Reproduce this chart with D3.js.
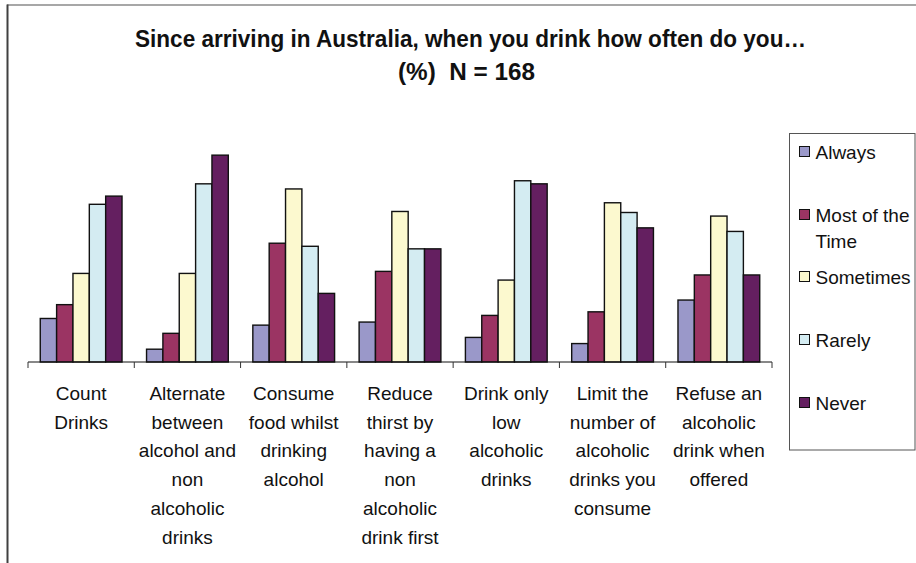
<!DOCTYPE html>
<html>
<head>
<meta charset="utf-8">
<script src="https://cdn.jsdelivr.net/npm/d3@7"></script>
<style>
  html, body { margin: 0; padding: 0; background: #fff; }
  svg { display: block; }
  text { font-family: "Liberation Sans", Arial, sans-serif; fill: #111; }
</style>
</head>
<body>
<svg id="chart" width="916" height="563"></svg>
<script>
// Behaviours asked about, one group of bars each
const categories = [
  ["Count", "Drinks"],
  ["Alternate", "between", "alcohol and", "non", "alcoholic", "drinks"],
  ["Consume", "food whilst", "drinking", "alcohol"],
  ["Reduce", "thirst by", "having a", "non", "alcoholic", "drink first"],
  ["Drink only", "low", "alcoholic", "drinks"],
  ["Limit the", "number of", "alcoholic", "drinks you", "consume"],
  ["Refuse an", "alcoholic", "drink when", "offered"]
];

// Response frequencies (legend order)
const seriesNames = ["Always", "Most of the Time", "Sometimes", "Rarely", "Never"];
const seriesColors = ["#9a98c9", "#9b3463", "#fcf9cf", "#d4ecf2", "#641f60"];

// Percent of respondents for each behaviour, one array per response
const always    = [8.5, 2.5, 7.2, 7.8, 4.8, 3.6, 12.1];
const mostTime  = [11.2, 5.6, 23.2, 17.7, 9.1, 9.8, 17.0];
const sometimes = [17.3, 17.3, 33.8, 29.4, 16.0, 31.1, 28.5];
const rarely    = [30.8, 34.8, 22.6, 22.1, 35.4, 29.2, 25.5];
const never     = [32.4, 40.4, 13.4, 22.1, 34.8, 26.2, 17.0];
const seriesValues = [always, mostTime, sometimes, rarely, never];

const titleLines = ["Since arriving in Australia, when you drink how often do you\u2026", "(%)  N = 168"];

const svg = d3.select("#chart");

// Outer frame (top and left edges)
svg.append("line").attr("x1", 7).attr("x2", 916).attr("y1", 5).attr("y2", 5)
  .attr("stroke", "#8a8a8a").attr("stroke-width", 1.5);
svg.append("line").attr("x1", 7.5).attr("x2", 7.5).attr("y1", 4.5).attr("y2", 563)
  .attr("stroke", "#404040").attr("stroke-width", 2);

// Title
svg.append("text").attr("x", 470.5).attr("y", 47).attr("text-anchor", "middle")
  .attr("font-size", 23).attr("font-weight", "bold")
  .attr("textLength", 671).attr("lengthAdjust", "spacingAndGlyphs")
  .text(titleLines[0]);
svg.append("text").attr("x", 466.5).attr("y", 80).attr("text-anchor", "middle")
  .attr("font-size", 23).attr("font-weight", "bold")
  .attr("textLength", 137).attr("lengthAdjust", "spacingAndGlyphs")
  .style("white-space", "pre")
  .text(titleLines[1]);

// Scales
const x0 = d3.scaleBand().domain(d3.range(categories.length)).range([28, 772]).padding(0);
const x1 = d3.scaleBand().domain(d3.range(seriesNames.length))
  .range([0, x0.bandwidth()]).paddingInner(0).paddingOuter(0.75);
const y = d3.scaleLinear().domain([0, 45]).range([362, 131.6]);

// Bars
const groups = svg.append("g").selectAll("g")
  .data(categories.map((c, i) => i))
  .join("g")
  .attr("transform", i => `translate(${x0(i)},0)`);

groups.selectAll("rect")
  .data(i => seriesValues.map((vals, s) => ({ s, v: vals[i] })))
  .join("rect")
  .attr("x", d => x1(d.s))
  .attr("y", d => y(d.v))
  .attr("width", x1.bandwidth())
  .attr("height", d => y(0) - y(d.v))
  .attr("fill", d => seriesColors[d.s])
  .attr("stroke", "#111")
  .attr("stroke-width", 1.4);

// Category axis: baseline and boundary ticks
svg.append("line").attr("x1", 28).attr("x2", 772).attr("y1", 362).attr("y2", 362)
  .attr("stroke", "#111").attr("stroke-width", 1);
const tickPos = d3.range(categories.length + 1).map(i => i < categories.length ? x0(i) : x0.range()[1]);
svg.append("g").selectAll("line").data(tickPos).join("line")
  .attr("x1", d => d).attr("x2", d => d).attr("y1", 362).attr("y2", 368)
  .attr("stroke", "#333").attr("stroke-width", 1);

// Category labels (wrapped lines)
const labels = svg.append("g").selectAll("text")
  .data(categories.map((lines, i) => ({ lines, i })))
  .join("text")
  .attr("text-anchor", "middle")
  .attr("font-size", 19)
  .attr("y", 400);
labels.selectAll("tspan")
  .data(d => d.lines.map((t, k) => ({ t, k, i: d.i })))
  .join("tspan")
  .attr("x", d => x0(d.i) + x0.bandwidth() / 2)
  .attr("dy", d => d.k === 0 ? 0 : 28.7)
  .text(d => d.t);

// Legend
const legend = svg.append("g");
legend.append("rect").attr("x", 789.5).attr("y", 133.5).attr("width", 125.5).attr("height", 316.5)
  .attr("fill", "#fff").attr("stroke", "#555").attr("stroke-width", 1);

const legendItems = [
  { lines: ["Always"], cy: 152 },
  { lines: ["Most of the", "Time"], cy: 215 },
  { lines: ["Sometimes"], cy: 277 },
  { lines: ["Rarely"], cy: 340 },
  { lines: ["Never"], cy: 403 }
];
legendItems.forEach((item, s) => {
  legend.append("rect")
    .attr("x", 799.5).attr("y", item.cy - 5.5).attr("width", 10).attr("height", 10)
    .attr("fill", seriesColors[s]).attr("stroke", "#111").attr("stroke-width", 1);
  const t = legend.append("text").attr("font-size", 19).attr("y", item.cy + 6.5);
  item.lines.forEach((ln, k) => {
    t.append("tspan").attr("x", 815.5).attr("dy", k === 0 ? 0 : 26.5).text(ln);
  });
});
</script>
</body>
</html>
